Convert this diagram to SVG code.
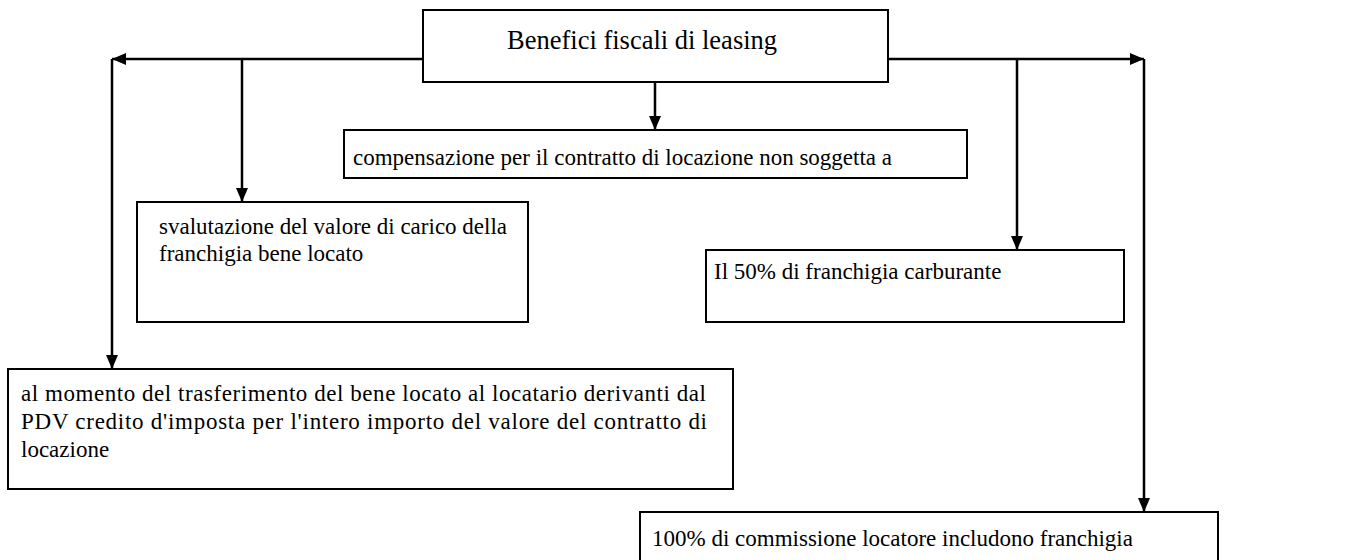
<svg xmlns="http://www.w3.org/2000/svg" width="1359" height="560" viewBox="0 0 1359 560">
<style>
.box{fill:#fff;stroke:#000;stroke-width:2}
.t{font-family:"Liberation Serif","Times New Roman",serif;font-size:23px;fill:#000}
.title{font-size:26.5px}
.c{fill:none;stroke:#000;stroke-width:2.5}
</style>
<defs>
<marker id="ah" viewBox="0 0 14 12" refX="14" refY="6" markerWidth="14" markerHeight="12" markerUnits="userSpaceOnUse" orient="auto">
<path d="M0,0 L14,6 L0,12 Z" fill="#000"/>
</marker>
</defs>
<rect x="0" y="0" width="1359" height="560" fill="#fff"/>
<g id="connectors">
<path class="c" d="M423,59 H112" marker-end="url(#ah)"/>
<path class="c" d="M112,59 V369" marker-end="url(#ah)"/>
<path class="c" d="M242,59 V202" marker-end="url(#ah)"/>
<path class="c" d="M655,82 V130" marker-end="url(#ah)"/>
<path class="c" d="M888,59 H1144" marker-end="url(#ah)"/>
<path class="c" d="M1017,59 V250" marker-end="url(#ah)"/>
<path class="c" d="M1144,59 V512" marker-end="url(#ah)"/>
</g>
<g id="n-root">
<rect class="box" x="423" y="10" width="465" height="72"/>
<text class="t title" x="507" y="49">Benefici fiscali di leasing</text>
</g>
<g id="n-compensazione">
<rect class="box" x="344" y="130" width="623" height="48"/>
<text class="t" x="353" y="165">compensazione per il contratto di locazione non soggetta a</text>
</g>
<g id="n-svalutazione">
<rect class="box" x="137" y="202" width="391" height="120"/>
<text class="t" x="159" y="234">svalutazione del valore di carico della</text>
<text class="t" x="159" y="261">franchigia bene locato</text>
</g>
<g id="n-carburante">
<rect class="box" x="706" y="250" width="418" height="72"/>
<text class="t" x="714" y="279">Il 50% di franchigia carburante</text>
</g>
<g id="n-momento">
<rect class="box" x="8" y="369" width="725" height="120"/>
<text class="t" x="21" y="401" textLength="685" lengthAdjust="spacing">al momento del trasferimento del bene locato al locatario derivanti dal</text>
<text class="t" x="21" y="429" textLength="686" lengthAdjust="spacing">PDV credito d'imposta per l'intero importo del valore del contratto di</text>
<text class="t" x="21" y="457">locazione</text>
</g>
<g id="n-commissione">
<rect class="box" x="640" y="512" width="578" height="60"/>
<text class="t" x="652" y="546">100% di commissione locatore includono franchigia</text>
</g>
</svg>
